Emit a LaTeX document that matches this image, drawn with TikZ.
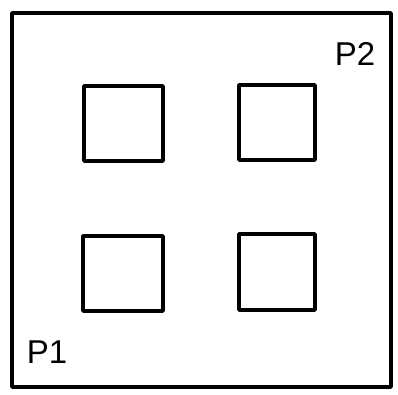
\documentclass[tikz,border=0pt]{standalone}
\usepackage{fontspec}
\setmainfont{Liberation Sans}
\begin{document}
\begin{tikzpicture}[x=1pt,y=-1pt,
  plate/.style={draw=black,line width=3.4pt,line join=round},
  hole/.style={draw=black,line width=3.6pt,line join=round},
  lbl/.style={font=\fontsize{33}{34}\selectfont,inner sep=0pt}]
\useasboundingbox (0,0) rectangle (398,394);
\fill[white] (0,0) rectangle (398,394);
\draw[plate] (12,13) rectangle (391,387);
\draw[hole] (84,86) rectangle (163,161);
\draw[hole] (239,85) rectangle (315,160);
\draw[hole] (83,236) rectangle (163,311);
\draw[hole] (239,234) rectangle (315,310);
\node[lbl] (p2) at (355,54) {P2};
\node[lbl] (p1) at (47,352) {P1};
\end{tikzpicture}
\end{document}
